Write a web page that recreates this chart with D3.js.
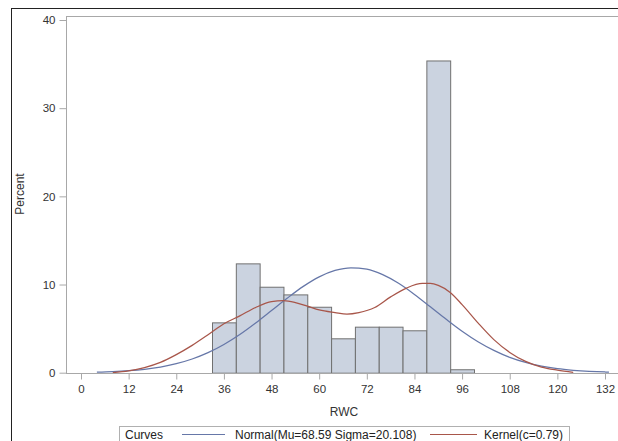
<!DOCTYPE html>
<html>
<head>
<meta charset="utf-8">
<script src="https://cdn.jsdelivr.net/npm/d3@7"></script>
<style>
  html, body { margin: 0; padding: 0; background: #fff; }
  svg { display: block; font-family: "Liberation Sans", Arial, sans-serif; }
</style>
</head>
<body>
<svg id="chart" width="618" height="441"></svg>
<script>
// ---- data ----
const binStarts = [33, 39, 45, 51, 57, 63, 69, 75, 81, 87, 93];
const binWidth = 6;
const percents = [5.71, 12.4, 9.75, 8.88, 7.48, 3.9, 5.22, 5.22, 4.81, 35.41, 0.39];

const xTicks = [0, 12, 24, 36, 48, 60, 72, 84, 96, 108, 120, 132];
const yTicks = [0, 10, 20, 30, 40];

const normalX = [4, 8, 12, 16, 20, 24, 28, 32, 36, 40, 44, 48, 52, 56, 60, 64, 68, 72, 76, 80, 84, 88, 92, 96, 100, 104, 108, 112, 116, 120, 124, 128, 132, 133];
const normalY = [0.07, 0.13, 0.23, 0.39, 0.64, 1.02, 1.55, 2.27, 3.2, 4.33, 5.64, 7.05, 8.47, 9.79, 10.87, 11.6, 11.9, 11.74, 11.12, 10.14, 8.88, 7.47, 6.05, 4.7, 3.51, 2.53, 1.74, 1.16, 0.74, 0.45, 0.27, 0.15, 0.08, 0.07];

const kernelX = [8, 12, 16, 20, 24, 28, 32, 36, 40, 44, 48, 51, 54, 57, 60, 64, 67, 70, 74, 78, 82, 86, 88, 90, 93, 96, 100, 104, 108, 112, 116, 120, 124];
const kernelY = [0.0, 0.2, 0.58, 1.17, 2.05, 3.1, 4.3, 5.55, 6.45, 7.4, 8.06, 8.16, 7.95, 7.55, 7.12, 6.82, 6.65, 6.82, 7.4, 8.6, 9.6, 10.12, 10.12, 9.9, 9.1, 7.72, 5.65, 3.75, 2.3, 1.28, 0.63, 0.29, 0.05];

const legendTitle = "Curves";
const normalLabel = "Normal(Mu=68.59 Sigma=20.108)";
const kernelLabel = "Kernel(c=0.79)";

// ---- layout ----
const svg = d3.select("#chart");
const plot = { left: 66, top: 16, right: 622, bottom: 373 };

const x = d3.scaleLinear().domain([0, 132]).range([81, 605]);
const y = d3.scaleLinear().domain([0, 40]).range([372.7, 20]);

const axisColor = "#a8a8a8";
const textColor = "#333";
const blue = "#6677A8";
const red = "#A8564A";

// outer frame
svg.append("rect")
  .attr("x", 11.5).attr("y", 8.5)
  .attr("width", 700).attr("height", 500)
  .attr("fill", "none").attr("stroke", "#222").attr("stroke-width", 1);

// plot frame
svg.append("rect")
  .attr("x", plot.left + 0.5).attr("y", plot.top + 0.5)
  .attr("width", plot.right - plot.left).attr("height", plot.bottom - plot.top)
  .attr("fill", "#fff").attr("stroke", axisColor).attr("stroke-width", 1);

// bars
svg.append("g").selectAll("rect")
  .data(binStarts.map((s, i) => ({ s, v: percents[i] })))
  .join("rect")
  .attr("x", d => x(d.s) + 0.5)
  .attr("y", d => y(d.v) + 0.5)
  .attr("width", d => x(d.s + binWidth) - x(d.s))
  .attr("height", d => y(0) - y(d.v))
  .attr("fill", "#CBD3E0")
  .attr("stroke", "#707070")
  .attr("stroke-width", 1);

// curves
const line = d3.line().x(d => x(d[0])).y(d => y(d[1])).curve(d3.curveMonotoneX);
svg.append("path")
  .attr("d", line(normalX.map((v, i) => [v, normalY[i]])))
  .attr("fill", "none").attr("stroke", blue).attr("stroke-width", 1.25);
svg.append("path")
  .attr("d", line(kernelX.map((v, i) => [v, kernelY[i]])))
  .attr("fill", "none").attr("stroke", red).attr("stroke-width", 1.25);

// x axis
const xAxis = svg.append("g")
  .attr("transform", `translate(0,${plot.bottom + 0.5})`)
  .call(d3.axisBottom(x).tickValues(xTicks).tickSize(6).tickPadding(5).tickFormat(d3.format("d")));
xAxis.select(".domain").remove();
xAxis.selectAll(".tick line").attr("stroke", axisColor);
xAxis.selectAll(".tick text").attr("fill", textColor).attr("font-size", 11.5).attr("font-family", "Liberation Sans, Arial, sans-serif");

// y axis
const yAxis = svg.append("g")
  .attr("transform", `translate(${plot.left + 0.5},0)`)
  .call(d3.axisLeft(y).tickValues(yTicks).tickSize(7).tickPadding(4).tickFormat(d3.format("d")));
yAxis.select(".domain").remove();
yAxis.selectAll(".tick line").attr("stroke", axisColor);
yAxis.selectAll(".tick text").attr("fill", textColor).attr("font-size", 11.5).attr("font-family", "Liberation Sans, Arial, sans-serif");

// axis lines on top
svg.append("line").attr("x1", plot.left + 0.5).attr("x2", plot.left + 0.5)
  .attr("y1", plot.top).attr("y2", plot.bottom + 0.5).attr("stroke", axisColor);
svg.append("line").attr("x1", plot.left).attr("x2", plot.right)
  .attr("y1", plot.bottom + 0.5).attr("y2", plot.bottom + 0.5).attr("stroke", axisColor);

// axis labels
svg.append("text")
  .attr("x", (plot.left + plot.right) / 2).attr("y", 416)
  .attr("text-anchor", "middle").attr("font-size", 12).attr("fill", textColor)
  .text("RWC");
svg.append("text")
  .attr("transform", "translate(24,194) rotate(-90)")
  .attr("text-anchor", "middle").attr("font-size", 12).attr("fill", textColor)
  .text("Percent");

// legend
const lg = svg.append("g");
lg.append("rect")
  .attr("x", 119.5).attr("y", 426.5).attr("width", 450).attr("height", 20)
  .attr("fill", "#fff").attr("stroke", "#b0b0b0");
lg.append("text").attr("x", 125).attr("y", 438.5).attr("font-size", 12).attr("fill", "#222").text(legendTitle);
lg.append("line").attr("x1", 182).attr("x2", 225).attr("y1", 434.5).attr("y2", 434.5)
  .attr("stroke", blue).attr("stroke-width", 1.2);
lg.append("text").attr("x", 235).attr("y", 438.5).attr("font-size", 12).attr("fill", "#222").text(normalLabel);
lg.append("line").attr("x1", 430).attr("x2", 477).attr("y1", 434.5).attr("y2", 434.5)
  .attr("stroke", red).attr("stroke-width", 1.2);
lg.append("text").attr("x", 484).attr("y", 438.5).attr("font-size", 12).attr("fill", "#222").text(kernelLabel);
</script>
</body>
</html>
